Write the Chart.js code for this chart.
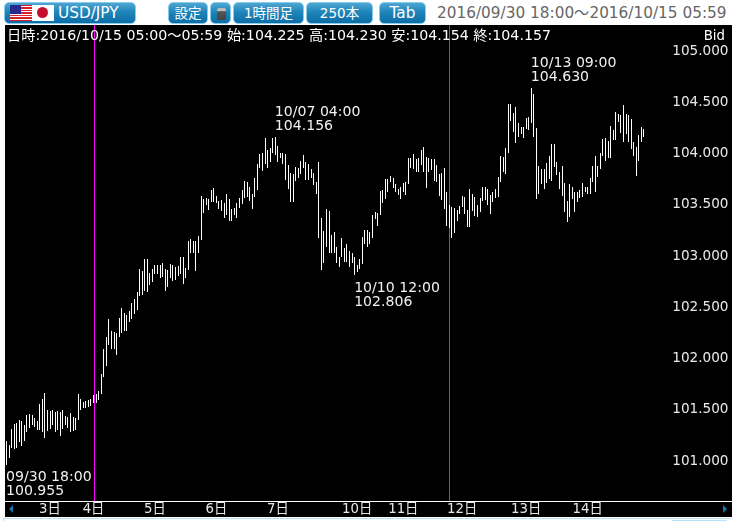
<!DOCTYPE html>
<html><head><meta charset="utf-8">
<script src="https://cdn.jsdelivr.net/npm/chart.js@4"></script>
<style>
html,body{margin:0;padding:0;background:#fff;width:734px;height:521px;overflow:hidden;font-family:"DejaVu Sans","Noto Sans CJK JP",sans-serif}
.btn{position:absolute;top:2px;height:20px;box-sizing:content-box;border:1px solid #86cdec;border-radius:5px;background:linear-gradient(#4fa6d2,#1f85ba 45%,#0c6da6);color:#fff;font-size:13.5px;line-height:20px;text-align:center}
#wrap{position:absolute;left:5px;top:25px;width:727px;height:492px;background:#000}
canvas{display:block}
#range{position:absolute;left:437px;top:4px;font-size:15.3px;line-height:18px;color:#666;white-space:nowrap}
#us{position:absolute;left:10px;top:5px;width:22px;height:16px;background:repeating-linear-gradient(#d8202c 0,#d8202c 1.23px,#fff 1.23px,#fff 2.46px)}
#us i{position:absolute;left:0;top:0;width:11px;height:9px;background:#2a2a8c radial-gradient(#fff 30%,transparent 35%) 0 0/2px 2px}
#jp{position:absolute;left:32px;top:5px;width:22px;height:16px;background:#fff}
#jp i{position:absolute;left:5px;top:2px;width:11px;height:11px;border-radius:50%;background:#c4102a}
#calc{position:absolute;left:217px;top:8px;width:9px;height:12px;border-radius:2px;background:linear-gradient(#bbb 25%,#555 30%,#444)}
#foot{position:absolute;left:3px;top:518px;width:728px;height:1px;background:#b5e3f7}
#side{position:absolute;left:3px;top:518px;width:1px;height:3px;background:#b5e3f7}
#foot2{position:absolute;left:672px;top:520px;width:55px;height:1px;background:#b5e3f7}
</style></head><body>
<div class="btn" style="left:4px;width:130px"></div>
<div id="us"><i></i></div><div id="jp"><i></i></div>
<div style="position:absolute;left:58px;top:3px;color:#fff;font-size:15.3px;line-height:20px">USD/JPY</div>
<div class="btn" style="left:168px;width:38px">設定</div>
<div class="btn" style="left:210px;width:19px"></div><div id="calc"></div>
<div class="btn" style="left:233px;width:69px">1時間足</div>
<div class="btn" style="left:306px;width:65px">250本</div>
<div class="btn" style="left:379px;width:45px;font-size:15.3px">Tab</div>
<div id="range">2016/09/30 18:00〜2016/10/15 05:59</div>
<div id="wrap"><canvas id="c" width="727" height="492"></canvas></div>
<div id="foot"></div><div id="side"></div><div id="foot2"></div>
<script>
const highs = [
101.19,101.15,101.30,101.35,101.36,101.39,101.38,101.34,101.44,101.45,
101.44,101.41,101.38,101.55,101.60,101.65,101.49,101.48,101.49,101.47,
101.48,101.47,101.49,101.43,101.42,101.46,101.42,101.41,101.64,101.60,
101.57,101.58,101.59,101.60,101.63,101.64,101.67,101.84,102.08,102.20,
102.38,102.26,102.25,102.24,102.39,102.48,102.43,102.41,102.45,102.53,
102.57,102.64,102.86,102.84,102.96,102.96,102.82,102.86,102.90,102.90,
102.90,102.92,102.86,102.85,102.91,102.90,102.88,102.89,102.98,102.98,
102.87,103.14,103.16,103.14,103.14,103.19,103.58,103.55,103.56,103.55,
103.63,103.65,103.58,103.53,103.54,103.51,103.60,103.55,103.45,103.46,
103.51,103.56,103.63,103.72,103.71,103.66,103.60,103.75,103.89,103.99,
104.00,104.14,104.02,104.04,104.14,104.156,104.06,104.00,104.00,103.99,
103.88,103.80,103.79,103.86,103.85,103.92,103.98,103.91,103.89,103.84,
103.80,103.71,103.91,103.36,103.23,103.45,103.43,103.20,103.22,103.08,
102.98,103.17,103.07,103.11,103.04,103.02,102.98,102.90,102.96,103.18,
103.24,103.24,103.22,103.39,103.42,103.41,103.62,103.63,103.74,103.74,
103.77,103.75,103.69,103.64,103.66,103.70,103.71,103.95,103.95,103.99,
103.94,103.95,104.02,104.05,103.96,103.95,103.94,103.94,103.88,103.79,
103.80,103.85,103.61,103.49,103.47,103.46,103.44,103.48,103.58,103.57,
103.44,103.64,103.60,103.57,103.49,103.56,103.66,103.66,103.64,103.59,
103.61,103.64,103.76,103.97,103.96,104.04,104.47,104.47,104.39,104.44,
104.29,104.25,104.25,104.34,104.35,104.63,104.57,104.24,103.87,103.84,
103.84,103.90,103.97,104.08,104.08,103.91,103.81,103.87,103.70,103.53,
103.69,103.66,103.61,103.61,103.63,103.70,103.66,103.66,103.75,103.87,
103.97,103.87,104.00,104.13,104.14,104.11,104.26,104.22,104.40,104.38,
104.37,104.46,104.38,104.37,104.33,104.10,104.05,104.17,104.25,104.23];
const lows = [
100.955,101.02,101.12,101.11,101.12,101.18,101.14,101.19,101.27,101.31,
101.34,101.32,101.29,101.29,101.27,101.21,101.28,101.30,101.34,101.27,
101.29,101.23,101.30,101.34,101.31,101.27,101.28,101.29,101.39,101.49,
101.51,101.51,101.52,101.53,101.56,101.56,101.59,101.64,101.81,101.92,
102.12,102.08,102.08,102.02,102.20,102.24,102.26,102.26,102.35,102.38,
102.42,102.46,102.60,102.61,102.65,102.64,102.71,102.74,102.81,102.81,
102.78,102.79,102.65,102.69,102.78,102.75,102.76,102.80,102.81,102.72,
102.78,102.85,103.02,103.02,102.84,103.02,103.15,103.41,103.49,103.44,
103.52,103.52,103.51,103.45,103.43,103.36,103.39,103.33,103.33,103.39,
103.36,103.46,103.50,103.56,103.57,103.53,103.45,103.57,103.63,103.85,
103.82,103.89,103.85,103.91,104.00,103.98,103.91,103.95,103.89,103.73,
103.64,103.52,103.52,103.72,103.75,103.79,103.85,103.73,103.73,103.75,
103.68,103.60,103.17,102.85,102.92,103.08,103.02,103.02,103.02,102.92,
102.88,102.98,102.93,102.93,102.88,102.92,102.806,102.83,102.86,102.91,
103.11,103.08,103.11,103.17,103.35,103.28,103.39,103.51,103.55,103.61,
103.71,103.65,103.61,103.59,103.55,103.61,103.59,103.69,103.85,103.84,
103.81,103.81,103.88,103.81,103.65,103.81,103.83,103.72,103.71,103.58,
103.54,103.45,103.28,103.26,103.17,103.21,103.33,103.40,103.47,103.40,
103.27,103.27,103.43,103.38,103.37,103.42,103.53,103.54,103.49,103.40,
103.52,103.56,103.57,103.71,103.81,103.79,104.00,104.31,104.20,104.09,
104.15,104.18,104.14,104.23,104.22,104.29,104.15,103.55,103.60,103.69,
103.64,103.70,103.74,103.72,103.86,103.78,103.64,103.58,103.42,103.32,
103.37,103.55,103.42,103.52,103.56,103.57,103.61,103.60,103.60,103.71,
103.61,103.76,103.84,103.97,103.92,103.95,103.95,104.12,104.12,104.30,
104.19,104.10,104.18,104.10,104.03,103.97,103.77,103.92,104.10,104.154];
const yTicks = [101,101.5,102,102.5,103,103.5,104,104.5,105];
const xTickIndex = [17,34,58,82,106,137,155,178,203,227];
const xTickLabel = ['3日','4日','5日','6日','7日','10日','11日','12日','13日','14日'];
const notes = [
  {i:0,   side:'low',  time:'09/30 18:00', val:'100.955'},
  {i:105, side:'high', time:'10/07 04:00', val:'104.156'},
  {i:136, side:'low',  time:'10/10 12:00', val:'102.806'},
  {i:205, side:'high', time:'10/13 09:00', val:'104.630'}];
const cursorIndex = [34,173];
const cursorColor = ['#ff00ff','#b030b0'];
const headerText = '日時:2016/10/15 05:00〜05:59 始:104.225 高:104.230 安:104.154 終:104.157';
const sideText = 'Bid';

const FONT = '"DejaVu Sans","Noto Sans CJK JP",sans-serif';
const categories = highs.map((_,i)=>String(i));
const ohlcPlugin = {
  id:'fx',
  beforeDatasetsDraw(chart){
    const {ctx,chartArea:a,scales:{x}} = chart;
    chart.getDatasetMeta(0).data.forEach(el=>{
      el.x = Math.floor(el.x)+0.5; el.y = Math.round(el.y); el.base = Math.round(el.base);
    });
    cursorIndex.forEach((i,k)=>{
      ctx.fillStyle = cursorColor[k];
      ctx.fillRect(Math.round(x.getPixelForValue(i)),a.top,1,a.bottom-a.top);
    });
  },
  afterDatasetsDraw(chart){
    const {ctx,chartArea:a,scales:{x,y}} = chart;
    ctx.save();
    ctx.fillStyle='#fff';
    ctx.fillRect(0,Math.round(a.bottom),chart.width,1);
    ctx.font = '14.1px '+FONT; ctx.fillStyle = '#f0f0f0'; ctx.textBaseline='middle'; ctx.textAlign='left';
    notes.forEach(n=>{
      const px = x.getPixelForValue(n.i)-0.5;
      const py = y.getPixelForValue(n.side==='high'?highs[n.i]:lows[n.i]);
      const a1 = n.side==='high' ? -24.5 : 13, a2 = n.side==='high' ? -10.5 : 27;
      ctx.fillText(n.time,px,py+a1); ctx.fillText(n.val,px,py+a2);
    });
    ctx.fillStyle='#fff';
    ctx.font='14.2px '+FONT;
    ctx.fillText(headerText,2,11);
    ctx.font='13.3px '+FONT;
    ctx.textAlign='right'; ctx.fillText(sideText,720,12);
    ctx.fillStyle='#0f7ab5';
    ctx.beginPath();ctx.moveTo(4,484);ctx.lineTo(8,480);ctx.lineTo(8,488);ctx.fill();
    ctx.beginPath();ctx.moveTo(722,484);ctx.lineTo(718,480);ctx.lineTo(718,488);ctx.fill();
    ctx.restore();
  }
};
new Chart(document.getElementById('c'),{
  type:'bar',
  plugins:[ohlcPlugin],
  data:{labels:categories,datasets:[{data:lows.map((l,i)=>[l,highs[i]]),backgroundColor:'#fff',borderWidth:0,barThickness:1,inflateAmount:0}]},
  options:{
    responsive:false,animation:false,devicePixelRatio:1,
    layout:{padding:{left:0.2,right:3.5,top:0,bottom:0}},
    plugins:{legend:{display:false},tooltip:{enabled:false},title:{display:false}},
    scales:{
      x:{type:'category',grid:{display:false,drawTicks:false},border:{display:false},
        ticks:{autoSkip:false,maxRotation:0,minRotation:0,color:'#e8e8e8',padding:1,font:{family:FONT,size:13.3},
          callback:v=>{const k=xTickIndex.indexOf(v);return k<0?'':xTickLabel[k];}},
        afterBuildTicks:s=>{s.ticks=xTickIndex.map(v=>({value:v}));},
        afterFit:s=>{s.height=16;s.paddingLeft=0;s.paddingRight=0;}},
      y:{type:'linear',position:'right',min:100.6,max:105.244,grid:{display:false,drawTicks:false},border:{display:false},
        afterBuildTicks:s=>{s.ticks=yTicks.map(v=>({value:v}));},
        ticks:{color:'#e8e8e8',crossAlign:'far',padding:0,labelOffset:1,font:{family:FONT,size:13.6},callback:v=>v.toFixed(3)},
        afterFit:s=>{s.width=83.3;s.paddingTop=0;s.paddingBottom=0;}}
    }
  }
});
</script>
</body></html>
